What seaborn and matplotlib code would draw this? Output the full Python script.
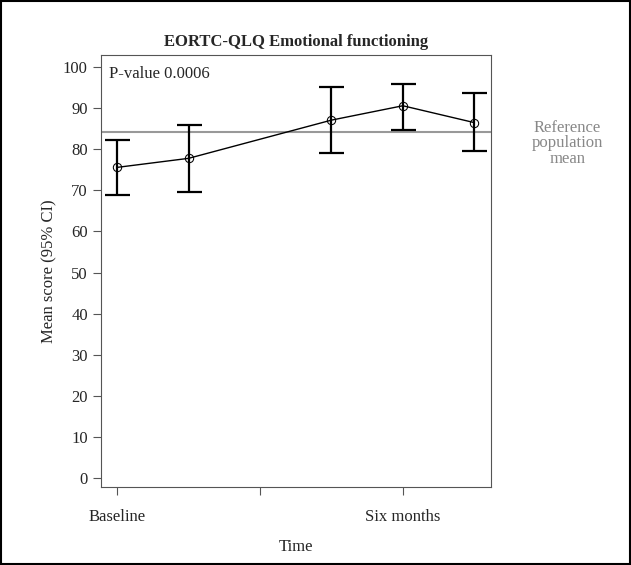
import numpy as np
import pandas as pd
import matplotlib
matplotlib.use("Agg")
import matplotlib.pyplot as plt
import seaborn as sns

# data
months = [0, 1.5, 4.5, 6, 7.5]
means = [75.6, 77.8, 87.1, 90.6, 86.5]
upper = [82.3, 86.0, 95.1, 95.9, 93.6]
lower = [68.8, 69.7, 79.2, 84.8, 79.6]
ref_mean = 84.1
tick_pos = [0, 3, 6]
tick_labels = ["Baseline", "", "Six months"]

sns.set_style("ticks")
plt.rcParams['font.family'] = ['Liberation Serif', 'DejaVu Serif']

df = pd.DataFrame({"month": months, "mean": means})

fig = plt.figure(figsize=(6.31, 5.65), dpi=100)
ax = fig.add_axes([0.16, 0.138, 0.618, 0.765])

ax.axhline(ref_mean, color="#999999", lw=1.5, zorder=1)
ax.errorbar(months, means,
            yerr=[np.array(means) - np.array(lower), np.array(upper) - np.array(means)],
            fmt="none", ecolor="black", elinewidth=1.6, capsize=9, capthick=1.6, zorder=2)
sns.lineplot(data=df, x="month", y="mean", ax=ax, color="black", lw=1,
             marker="o", markersize=6, markerfacecolor="none",
             markeredgecolor="black", zorder=3)

ax.set_xlim(-0.34, 7.85)
ax.set_ylim(-2.2, 103)
ax.set_yticks(range(0, 101, 10))
ax.set_xticks(tick_pos)
ax.set_xticklabels(tick_labels)
ax.tick_params(labelsize=12, length=6, color="#555555")
ax.tick_params(axis="x", pad=10)
for s in ax.spines.values():
    s.set_visible(True)
    s.set_color("#555555")
ax.set_xlabel("Time", fontsize=12, labelpad=10)
ax.set_ylabel("Mean score (95% CI)", fontsize=12)
ax.set_title("EORTC-QLQ Emotional functioning", fontsize=12, fontweight="bold", pad=6)
ax.text(0.02, 0.975, "P-value 0.0006", transform=ax.transAxes, ha="left", va="top", fontsize=12)
ax.annotate("Reference\npopulation\nmean", xy=(1.0, ref_mean), xycoords=("axes fraction", "data"),
            xytext=(55, 9), textcoords="offset points", ha="center", va="top",
            fontsize=12, color="#888888", linespacing=0.95,
            annotation_clip=False)

fig.patches.append(plt.Rectangle((0.002, 0.002), 0.996, 0.996, transform=fig.transFigure,
                                 fill=False, edgecolor="black", lw=1.5))
fig.savefig("out.png", dpi=100)
